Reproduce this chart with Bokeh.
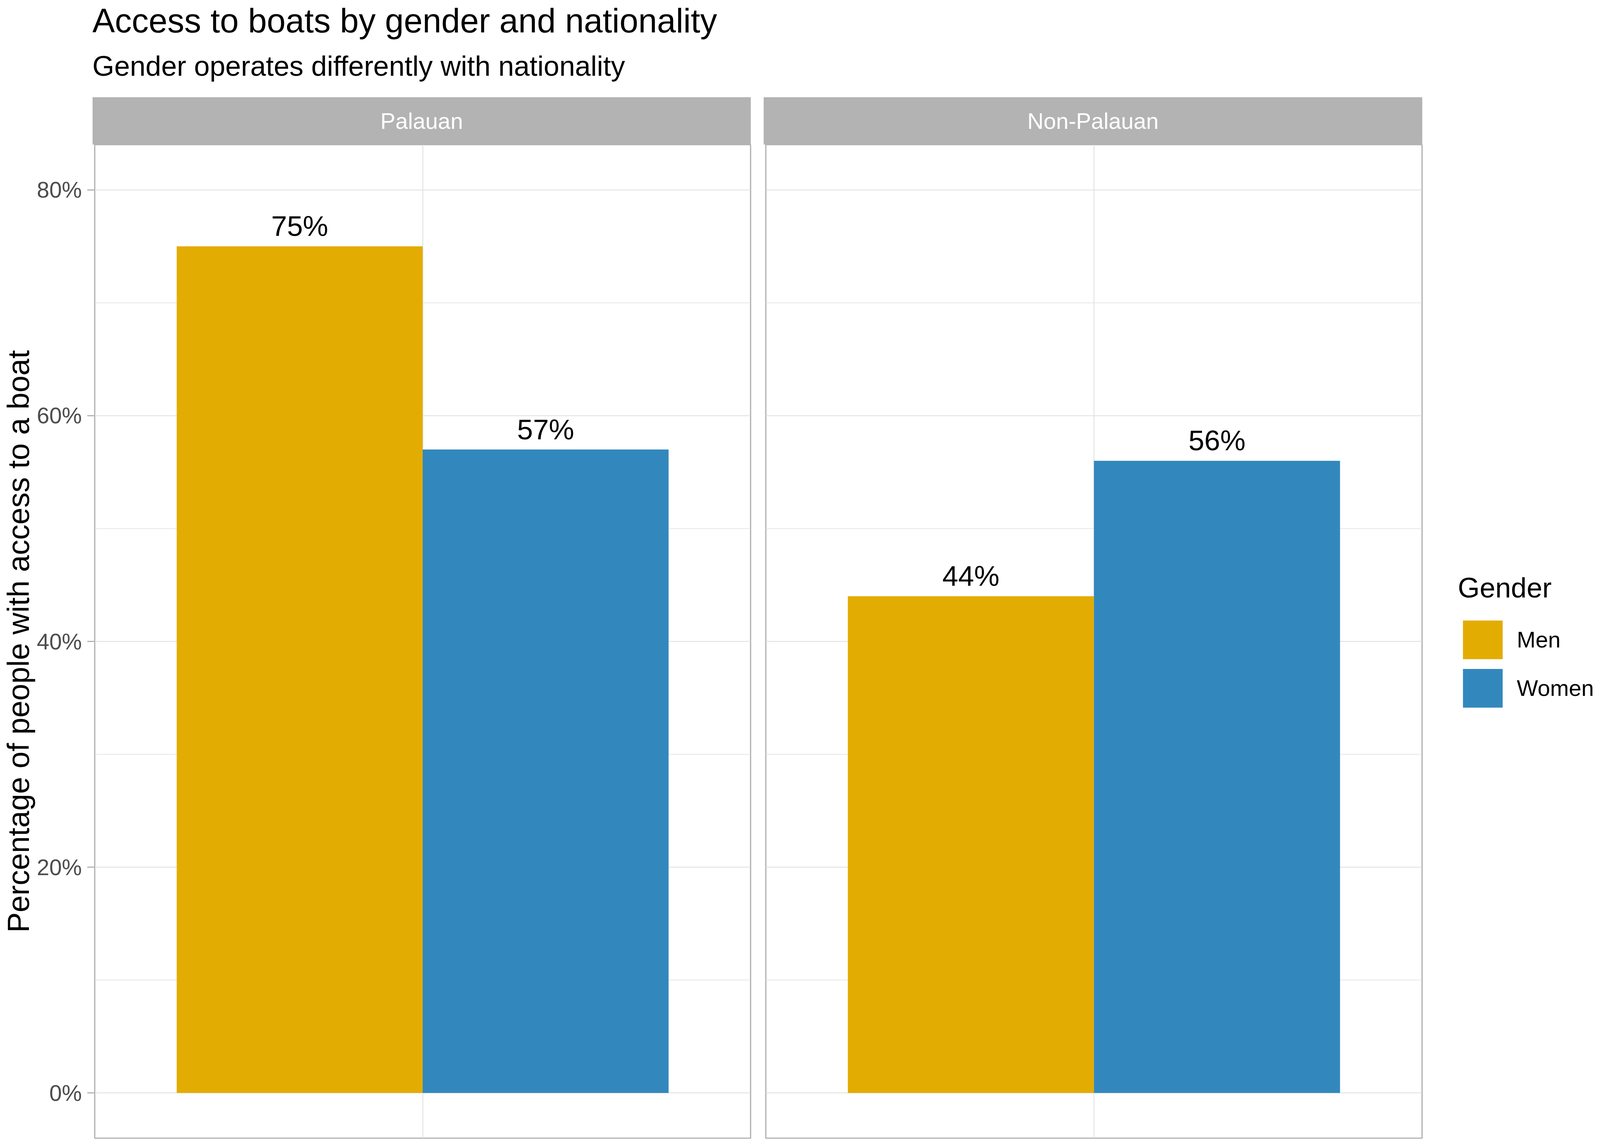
from bokeh.plotting import figure
from bokeh.models import (Range1d, FactorRange, ColumnDataSource, FixedTicker,
                          CategoricalTicker, Grid, LinearAxis, Legend, LegendItem,
                          Label)
from bokeh.layouts import column, row
from bokeh.transform import dodge
from bokeh.core.properties import value
from bokeh.embed import file_html
from bokeh.resources import INLINE

# ---------------- data ----------------
NATIONALITIES = ["Palauan", "Non-Palauan"]
GENDERS = ["Men", "Women"]
MEN_PCT = [75, 44]
WOMEN_PCT = [57, 56]
GENDER_COLORS = ["#E3AC02", "#3288BD"]
Y_TICKS = [0, 20, 40, 60, 80]
Y_TICK_LABELS = ["0%", "20%", "40%", "60%", "80%"]
Y_MINOR_TICKS = [10, 30, 50, 70]
TITLE = "Access to boats by gender and nationality"
SUBTITLE = "Gender operates differently with nationality"
Y_LABEL = "Percentage of people with access to a boat"
LEGEND_TITLE = "Gender"

# ---------------- style / layout ----------------
# the visible page is about 4096 px wide, so horizontal reference positions are scaled by SX
SX = 4096 / 4550
FONT = "Liberation Sans"


def px(v):
    return int(round(v * SX))


def fs(v):
    return f"{v * SX:.1f}px"


W = 4080
H = 2932 - 16
STRIP_TOP = 257 - 8
HEAD_H = 378 - 8            # title block + facet strips
BOTTOM_PX = 2
FRAME_H = H - HEAD_H - BOTTOM_PX
Y_START, Y_END = -4, 84
DODGE = 0.225
BAR_W = 0.45
BORDER = "#B3B3B3"
GRID = "#DEDEDE"

P1_LEFT = px(273) - 8
P1_W = px(2138 - 273)
P1_RIGHT = 10
P2_LEFT = px(2181 - 2138) - P1_RIGHT
P2_W = px(4047 - 2181)
P2_RIGHT = W - (P1_LEFT + P1_W + P1_RIGHT) - (P2_LEFT + P2_W)


def make_panel(i, left_border, frame_w, right_border):
    nat = NATIONALITIES[i]
    p = figure(frame_width=frame_w, frame_height=FRAME_H,
               x_range=FactorRange(factors=[nat], range_padding=0.2),
               y_range=Range1d(Y_START, Y_END),
               x_axis_location=None, y_axis_location=None,
               min_border_left=left_border, min_border_right=right_border,
               min_border_top=0, min_border_bottom=BOTTOM_PX,
               tools="", toolbar_location=None, output_backend="svg",
               background_fill_color="white", border_fill_color="white",
               outline_line_color=BORDER, outline_line_width=3.2)
    p.center = []
    yticker = FixedTicker(ticks=Y_TICKS, minor_ticks=Y_MINOR_TICKS)
    p.add_layout(Grid(dimension=1, ticker=yticker, grid_line_color=GRID,
                      grid_line_width=2.2, minor_grid_line_color=GRID,
                      minor_grid_line_width=1.3))
    p.add_layout(Grid(dimension=0, ticker=CategoricalTicker(),
                      grid_line_color=GRID, grid_line_width=2.0))
    src = ColumnDataSource(dict(
        x=[nat], men=[MEN_PCT[i]], women=[WOMEN_PCT[i]],
        men_lbl=[f"{MEN_PCT[i]}%"], women_lbl=[f"{WOMEN_PCT[i]}%"]))
    rends = []
    for col, off, lbl, color in zip(["men", "women"], [-DODGE, DODGE],
                                    ["men_lbl", "women_lbl"], GENDER_COLORS):
        r = p.vbar(x=dodge("x", off, range=p.x_range), top=col, bottom=0,
                   width=BAR_W, source=src, fill_color=color, line_color=None)
        rends.append(r)
        p.text(x=dodge("x", off, range=p.x_range), y=col, text=lbl, source=src,
               text_font=value(FONT), text_font_size=fs(81), text_color="black",
               text_align="center", text_baseline="middle", y_offset=-52)
    return p, rends, yticker


p1, r1, t1 = make_panel(0, P1_LEFT, P1_W, P1_RIGHT)
p2, r2, t2 = make_panel(1, P2_LEFT, P2_W, P2_RIGHT)

yaxis = LinearAxis(ticker=t1, axis_label=Y_LABEL,
                   major_label_overrides=dict(zip(Y_TICKS, Y_TICK_LABELS)),
                   axis_label_text_font=FONT, axis_label_text_font_size="78px",
                   axis_label_text_font_style="normal", axis_label_text_color="black",
                   axis_label_standoff=0,
                   major_label_text_font=FONT, major_label_text_font_size=fs(64),
                   major_label_text_color="#4D4D4D", major_label_standoff=14,
                   major_tick_out=px(21), major_tick_in=0, major_tick_line_color=BORDER,
                   major_tick_line_width=2.8, minor_tick_line_color=None,
                   axis_line_color=None)
p1.add_layout(yaxis, "left")

legend = Legend(items=[LegendItem(label=g, renderers=[r]) for g, r in zip(GENDERS, r2)],
                title=LEGEND_TITLE, location=(92, 2922 - 1832),
                glyph_width=px(141), glyph_height=124, spacing=0,
                label_standoff=24,
                label_text_font=FONT, label_text_font_size=fs(64),
                label_text_color="black",
                title_text_font=FONT, title_text_font_size=fs(80),
                title_text_font_style="normal", title_text_color="black",
                title_standoff=30,
                border_line_color=None, background_fill_alpha=0,
                padding=0, margin=0)
p2.add_layout(legend, "right")

# ---- title block with the facet strips ----
head = figure(width=W, height=HEAD_H, x_range=Range1d(0, W), y_range=Range1d(HEAD_H, 0),
              min_border=0, x_axis_location=None, y_axis_location=None,
              tools="", toolbar_location=None, output_backend="svg",
              outline_line_color=None, background_fill_color="white",
              border_fill_color="white")
head.center = []
head.add_layout(Label(x=px(271) - 8, y=60 - 8, text=TITLE,
                      text_font=FONT, text_font_size=fs(96),
                      text_color="black", text_baseline="middle"))
head.add_layout(Label(x=px(271) - 8, y=202 - 0.35 * 80 * SX - 8, text=SUBTITLE,
                      text_font=FONT, text_font_size=fs(80),
                      text_color="black", text_baseline="middle"))

p2_frame_left = P1_LEFT + P1_W + P1_RIGHT + P2_LEFT
strip_left = [P1_LEFT - 1, p2_frame_left - 1]
strip_right = [P1_LEFT + P1_W + 4, p2_frame_left + P2_W + 4]
strip_src = ColumnDataSource(dict(left=strip_left, right=strip_right, label=NATIONALITIES))
head.quad(left="left", right="right", top=STRIP_TOP, bottom=HEAD_H, source=strip_src,
          fill_color=BORDER, line_color=BORDER, line_width=1)
for nat, l, r in zip(NATIONALITIES, strip_left, strip_right):
    head.add_layout(Label(x=(l + r) / 2, y=(STRIP_TOP + HEAD_H) / 2, text=nat,
                          text_font=FONT, text_font_size=fs(64), text_color="white",
                          text_align="center", text_baseline="middle"))

layout = column(head, row(p1, p2, spacing=0), spacing=0)
open("out.html", "w").write(file_html(layout, INLINE))
